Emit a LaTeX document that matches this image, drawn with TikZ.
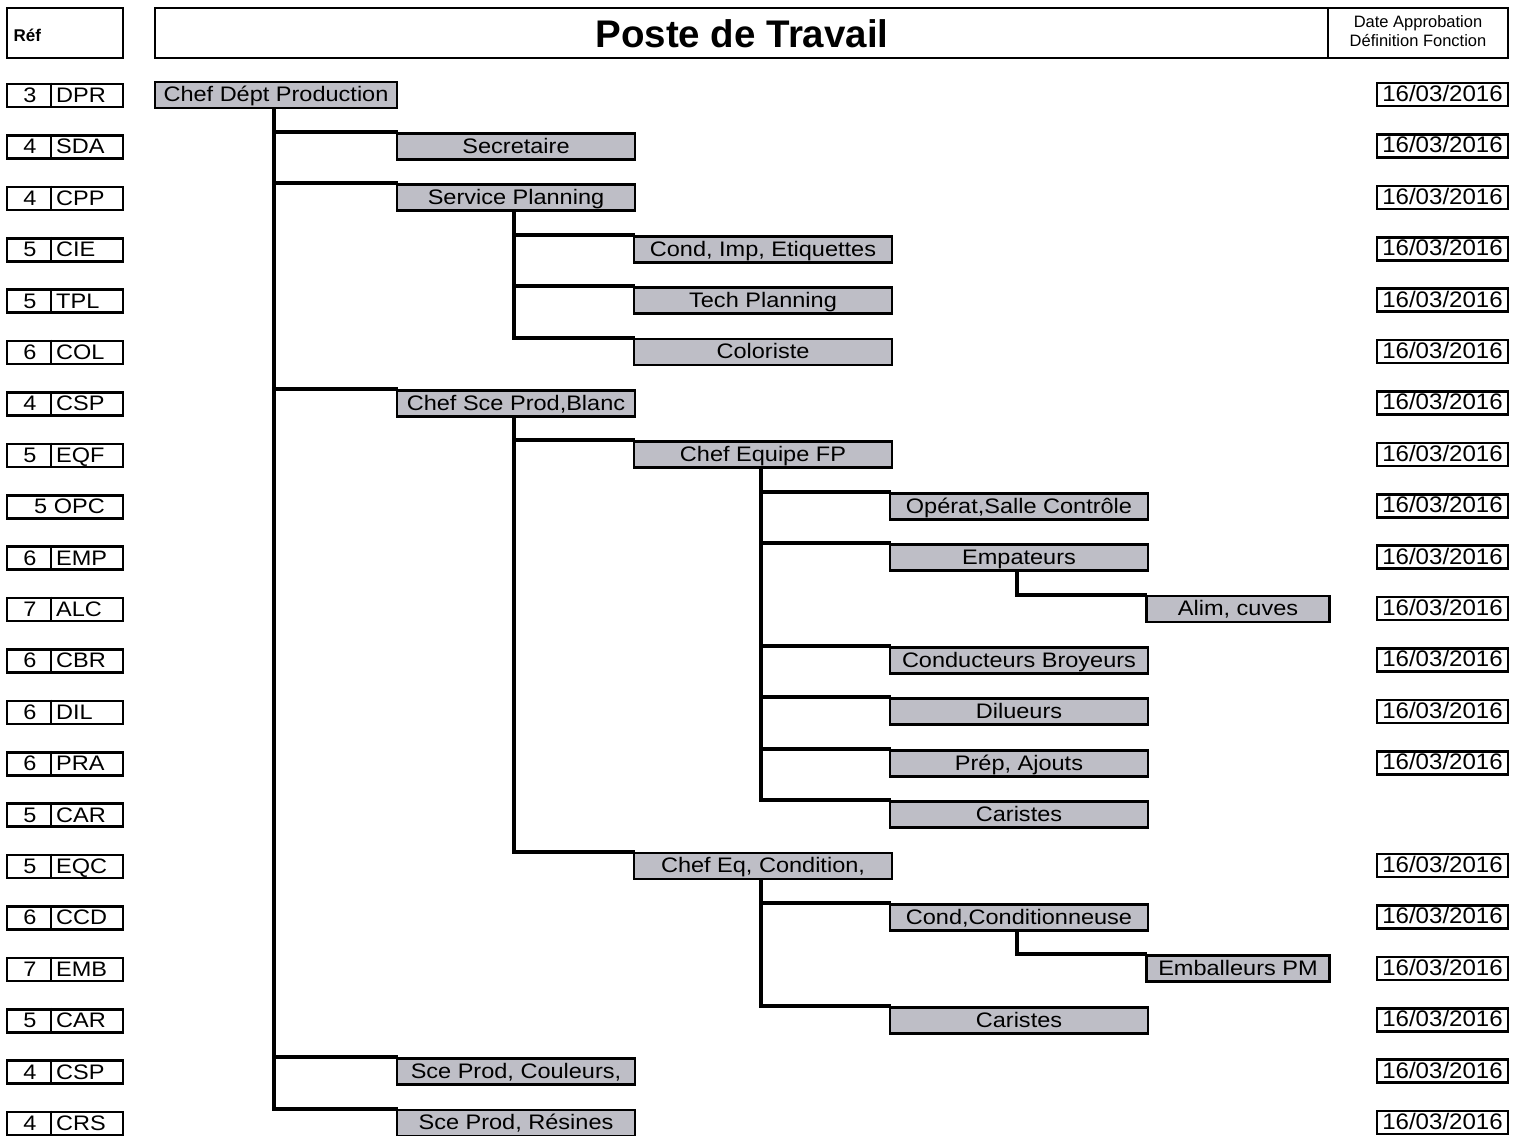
\documentclass[tikz,border=0pt]{standalone}
\usepackage{fontspec}
\setmainfont{Liberation Sans}
\newfontfamily\widefam[FakeStretch=1.12]{Liberation Sans}
\newfontfamily\datefam[FakeStretch=1.07]{Liberation Sans}
\newcommand\boxfont{\widefam\fontsize{21}{24}\selectfont}
\newcommand\datefont{\datefam\fontsize{22.5}{25}\selectfont}
\definecolor{boxgray}{RGB}{190,190,198}
\begin{document}
\begin{tikzpicture}[x=1pt,y=-1pt,
  fixedtext/.style={text height=16.5,text depth=2.6},
  orgbox/.style={draw=black,line width=2.8pt,fill=boxgray,minimum height=26,inner sep=0pt,font=\boxfont,fixedtext},
  refbox/.style={draw=black,line width=2.6pt,minimum width=116,minimum height=23,inner sep=0pt},
  datebox/.style={draw=black,line width=2.6pt,minimum width=131,minimum height=23,inner sep=0pt,font=\datefont,fixedtext},
  reftext/.style={font=\boxfont,inner sep=0pt,fixedtext},
  conn/.style={line width=4pt,line cap=rect},
  lA/.style={orgbox,minimum width=242},
  lB/.style={orgbox,minimum width=238},
  lC/.style={orgbox,minimum width=258},
  lD/.style={orgbox,minimum width=258},
  lE/.style={orgbox,minimum width=183}]
\useasboundingbox (0,0) rectangle (1525,1135);

% header
\node[draw,line width=2.8pt,minimum width=116,minimum height=50,inner sep=0pt] (refhead) at (65,33) {};
\node[anchor=west,font=\bfseries\fontsize{17}{19}\selectfont] (reflabel) at (10,35) {Réf};
\node[draw,line width=2.8pt,minimum width=1353,minimum height=50,inner sep=0pt] (titlebox) at (831.5,33) {};
\coordinate (divtop) at (1328,8);
\coordinate (divbot) at (1328,58);
\draw[line width=2.4pt] (divtop) -- (divbot);
\node[font=\bfseries\fontsize{38.5}{40}\selectfont] (title) at (742,34) {Poste de Travail};
\node[align=center,font=\fontsize{16.5}{18.5}\selectfont] (datehead) at (1418,31) {Date Approbation\\Définition Fonction};

% organisation chart boxes
\node[lA] (n0)  at (276, 95.0)  {Chef Dépt Production};
\node[lB] (n1)  at (516, 146.4) {Secretaire};
\node[lB] (n2)  at (516, 197.8) {Service Planning};
\node[lC] (n3)  at (763, 249.2) {Cond, Imp, Etiquettes};
\node[lC] (n4)  at (763, 300.6) {Tech Planning};
\node[lC] (n5)  at (763, 352.0) {Coloriste};
\node[lB] (n6)  at (516, 403.4) {Chef Sce Prod,Blanc};
\node[lC] (n7)  at (763, 454.8) {Chef Equipe FP};
\node[lD] (n8)  at (1019,506.2) {Opérat,Salle Contrôle};
\node[lD] (n9)  at (1019,557.6) {Empateurs};
\node[lE] (n10) at (1238,609.0) {Alim, cuves};
\node[lD] (n11) at (1019,660.4) {Conducteurs Broyeurs};
\node[lD] (n12) at (1019,711.8) {Dilueurs};
\node[lD] (n13) at (1019,763.2) {Prép, Ajouts};
\node[lD] (n14) at (1019,814.6) {Caristes};
\node[lC] (n15) at (763, 866.0) {Chef Eq, Condition,};
\node[lD] (n16) at (1019,917.4) {Cond,Conditionneuse};
\node[lE] (n17) at (1238,968.8) {Emballeurs PM};
\node[lD] (n18) at (1019,1020.2) {Caristes};
\node[lB] (n19) at (516,1071.6) {Sce Prod, Couleurs,};
\node[lB] (n20) at (516,1123.0) {Sce Prod, Résines};

% elbow connectors from each parent to the top-left corner of its children
\foreach \p/\c in {0/1,0/2,0/6,0/19,0/20,2/3,2/4,2/5,6/7,6/15,7/8,7/9,7/11,7/12,7/13,7/14,9/10,15/16,15/18,16/17}
  \draw[conn] ([xshift=-2]n\p.south) |- (n\c.north west);

% reference boxes
\foreach \i/\num/\code in {0/3/DPR,1/4/SDA,2/4/CPP,3/5/CIE,4/5/TPL,5/6/COL,6/4/CSP,7/5/EQF,9/6/EMP,10/7/ALC,11/6/CBR,12/6/DIL,13/6/PRA,14/5/CAR,15/5/EQC,16/6/CCD,17/7/EMB,18/5/CAR,19/4/CSP,20/4/CRS} {
  \node[refbox] (r\i) at (65,{95.5+51.4*\i}) {};
  \draw[line width=2.4pt] (r\i.north west) ++(45,0) coordinate (rs\i) -- (r\i.south west -| rs\i);
  \node[reftext] (rn\i) at (30,{95.5+51.4*\i}) {\num};
  \node[reftext,anchor=west] (rc\i) at (56,{95.5+51.4*\i}) {\code};
}
\node[refbox] (r8) at (65,506.7) {};
\node[reftext,anchor=west] (rc8) at (34,506.7) {5 OPC};

% approval dates
\foreach \i in {0,...,13,15,16,17,18,19,20} {
  \node[datebox] (d\i) at (1442.5,{94.5+51.4*\i}) {16/03/2016};
}
\end{tikzpicture}
\end{document}
